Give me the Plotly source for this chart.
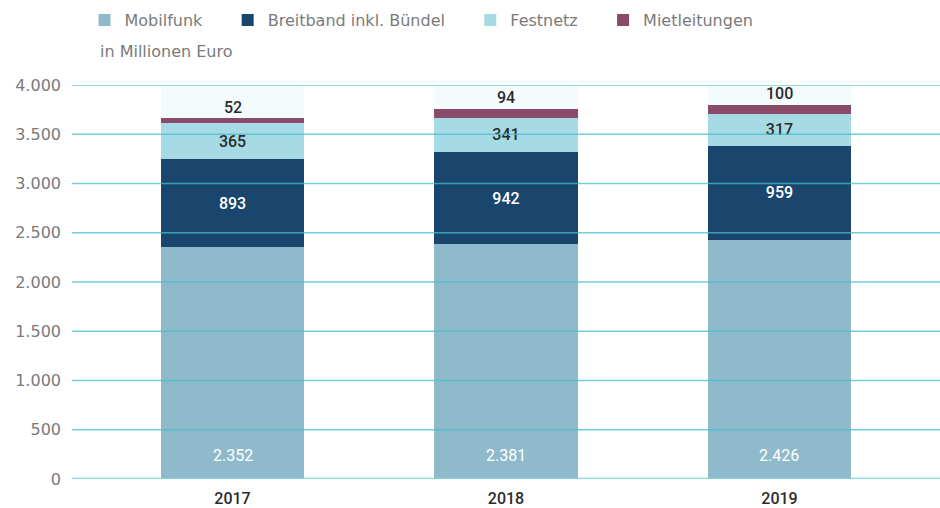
import plotly.graph_objects as go

years = ["2017", "2018", "2019"]
mobilfunk = [2352, 2381, 2426]
breitband = [893, 942, 959]
festnetz = [365, 341, 317]
mietleitungen = [52, 94, 100]
y_ticks = [0, 500, 1000, 1500, 2000, 2500, 3000, 3500, 4000]
y_max = 4000

def de(v):
    return f"{v:,}".replace(",", ".")

totals = [a + b + c + d for a, b, c, d in zip(mobilfunk, breitband, festnetz, mietleitungen)]
filler = [y_max - t for t in totals]

NB = "\u00a0" * 4
label_font = dict(family="Roboto", size=16, color="#2b2b2b", weight=500)
white_font = dict(family="Roboto", size=16, color="#ffffff", weight=500)
gray_font = dict(family="DejaVu Sans", size=16, color="#7a7a7a", weight=400)
bw = 0.523

fig = go.Figure()
fig.add_bar(x=years, y=mobilfunk, name="Mobilfunk" + NB, marker_color="#8fbacb",
            width=bw, marker_line_width=0)
fig.add_bar(x=years, y=breitband, name="Breitband inkl. Bündel" + NB, marker_color="#1a466e",
            text=[de(v) for v in breitband], textposition="inside", insidetextanchor="middle",
            textfont=white_font, width=bw, marker_line_width=0)
fig.add_bar(x=years, y=festnetz, name="Festnetz" + NB, marker_color="#a6dbe6",
            text=[de(v) for v in festnetz], textposition="inside", insidetextanchor="middle",
            textfont=label_font, width=bw, marker_line_width=0)
fig.add_bar(x=years, y=mietleitungen, name="Mietleitungen", marker_color="#8a4a6a",
            width=bw, marker_line_width=0)
fig.add_bar(x=years, y=filler, name="", showlegend=False, marker_color="#f3fbfd",
            width=bw, marker_line_width=0, hoverinfo="skip")

# value labels (x given as category index)
for i, v in enumerate(mobilfunk):
    fig.add_annotation(x=i, y=0, text=de(v), showarrow=False, yanchor="middle",
                       yshift=24, font=dict(family="Roboto", size=16, color="#ffffff", weight=400))
for i, (t, v) in enumerate(zip(totals, mietleitungen)):
    fig.add_annotation(x=i, y=t, text=de(v), showarrow=False, yanchor="middle",
                       yshift=11, font=label_font)

for t in y_ticks:
    fig.add_shape(type="line", xref="paper", x0=0, x1=1, yref="y", y0=t, y1=t,
                  line=dict(color="rgba(70,190,205,0.75)" if t else "rgba(130,210,220,0.9)",
                            width=1.5 if t else 2.5),
                  layer="above")

fig.add_annotation(text="in Millionen Euro", xref="paper", yref="paper", x=(98 - 72) / 868, y=1.0,
                   xanchor="left", yanchor="bottom", yshift=22, showarrow=False, font=gray_font)

fig.update_layout(
    barmode="stack",
    width=940, height=508,
    margin=dict(l=72, r=0, t=85, b=29, autoexpand=False),
    plot_bgcolor="white", paper_bgcolor="white",
    showlegend=True,
    legend=dict(orientation="h", xref="container", yref="container", x=0.0899, y=0.994,
                xanchor="left", yanchor="top", font=gray_font,
                itemwidth=30, traceorder="normal"),
    xaxis=dict(type="category", range=[-0.587, 2.587], showgrid=False, showline=False, ticks="",
               ticklabelstandoff=8,
               tickfont=dict(family="Roboto", size=16, color="#2b2b2b", weight=500)),
    yaxis=dict(range=[0, y_max], tickvals=y_ticks, ticktext=[de(v) for v in y_ticks],
               showgrid=False, zeroline=False, showline=False, ticks="", ticklabelstandoff=10,
               tickfont=gray_font),
)

fig.write_html("out.html", config={"displayModeBar": False},
               post_script="document.body.style.margin='0';")
